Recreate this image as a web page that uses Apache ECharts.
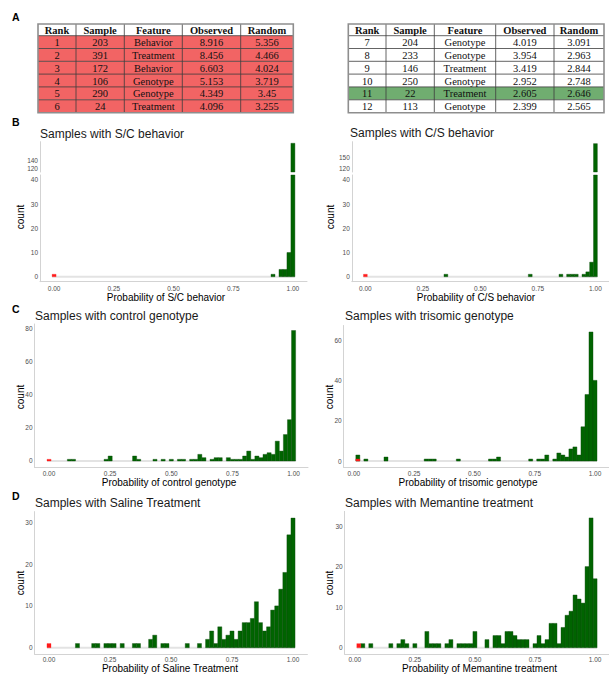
<!DOCTYPE html>
<html><head><meta charset="utf-8">
<script src="https://cdn.jsdelivr.net/npm/echarts@6/dist/echarts.min.js"></script>
<style>html,body{margin:0;padding:0;background:#fff}#c{width:609px;height:676px}</style>
</head><body><div id="c"></div><script>
// ---------------- DATA ----------------
const BIN_W = 1 / 60;                 // histogram bin width (probability units)
const xTicks = [0, 0.25, 0.5, 0.75, 1];

// Panel A tables
const tableHeader = ['Rank', 'Sample', 'Feature', 'Observed', 'Random'];
const rank1 = ['1', '2', '3', '4', '5', '6'];
const sample1 = ['203', '391', '172', '106', '290', '24'];
const feature1 = ['Behavior', 'Treatment', 'Behavior', 'Genotype', 'Genotype', 'Treatment'];
const observed1 = ['8.916', '8.456', '6.603', '5.153', '4.349', '4.096'];
const random1 = ['5.356', '4.466', '4.024', '3.719', '3.45', '3.255'];
const rank2 = ['7', '8', '9', '10', '11', '12'];
const sample2 = ['204', '233', '146', '250', '22', '113'];
const feature2 = ['Genotype', 'Genotype', 'Treatment', 'Genotype', 'Treatment', 'Genotype'];
const observed2 = ['4.019', '3.954', '3.419', '2.952', '2.605', '2.399'];
const random2 = ['3.091', '2.963', '2.844', '2.748', '2.646', '2.565'];
const highlightRank = '11';

// Panel B: S/C behaviour (bin index, count)
const scBins = [55, 57, 58, 59, 60];
const scCounts = [1, 3, 3, 10, 183];
const scRedBins = [0];
const scRedCounts = [1];
const scLowTicks = [0, 10, 20, 30, 40];
const scHighTicks = [120, 140];
// Panel B: C/S behaviour
const csBins = [21, 43, 51, 53, 54, 55, 57, 58, 59, 60];
const csCounts = [1, 1, 1, 1, 1, 1, 1, 2, 6, 185];
const csRedBins = [0];
const csRedCounts = [1];
const csLowTicks = [0, 10, 20, 30, 40];
const csHighTicks = [120, 150];

// Panel C: control genotype
const ctrlBins = [5, 6, 14, 15, 21, 22, 26, 28, 30, 32, 33, 35, 36, 37, 38, 40, 41, 42, 44, 45, 46, 47, 48, 49, 50, 51, 52, 53, 54, 55, 56, 57, 58, 59, 60];
const ctrlCounts = [1, 1, 1, 3, 3, 1, 1, 1, 1, 1, 1, 1, 1, 4, 2, 1, 2, 2, 2, 1, 1, 1, 3, 6, 1, 3, 2, 4, 5, 4, 12, 6, 16, 25, 79];
const ctrlRedBins = [0];
const ctrlRedCounts = [1];
const ctrlTicks = [0, 20, 40, 60, 80];
// Panel C: trisomic genotype
const triBins = [1, 3, 8, 18, 19, 20, 26, 34, 35, 36, 44, 46, 47, 48, 50, 51, 52, 53, 54, 55, 56, 57, 58, 59, 60];
const triCounts = [3, 1, 2, 1, 1, 1, 1, 1, 1, 2, 1, 1, 1, 3, 1, 4, 3, 2, 6, 7, 3, 17, 33, 64, 40];
const triRedBins = [1];
const triRedCounts = [1];
const triTicks = [0, 20, 40, 60];

// Panel D: saline treatment
const salBins = [7, 11, 12, 14, 15, 16, 18, 21, 22, 25, 26, 28, 29, 34, 37, 39, 40, 41, 42, 43, 44, 45, 46, 47, 48, 49, 50, 51, 52, 53, 54, 55, 56, 57, 58, 59, 60];
const salCounts = [1, 1, 1, 1, 1, 1, 1, 1, 1, 2, 3, 1, 1, 1, 1, 2, 4, 1, 5, 2, 3, 4, 2, 4, 6, 6, 7, 11, 6, 4, 5, 9, 10, 14, 18, 27, 31];
const salRedBins = [0];
const salRedCounts = [1];
const salTicks = [0, 10, 20, 30];
// Panel D: memantine treatment
const memBins = [2, 4, 9, 11, 12, 13, 15, 18, 19, 20, 21, 23, 24, 26, 27, 28, 29, 30, 33, 35, 36, 37, 38, 39, 40, 41, 42, 43, 45, 46, 47, 48, 49, 50, 51, 52, 53, 54, 55, 56, 57, 58, 59, 60];
const memCounts = [1, 1, 1, 1, 2, 1, 1, 4, 1, 1, 1, 1, 2, 1, 1, 1, 1, 4, 2, 3, 3, 1, 4, 4, 3, 2, 2, 2, 1, 3, 1, 2, 6, 6, 1, 5, 8, 9, 13, 12, 11, 20, 32, 17];
const memRedBins = [1];
const memRedCounts = [1];
const memTicks = [0, 10, 20, 30];

// ---------------- STYLE / LAYOUT ----------------
const SANS = '"Liberation Sans", Arial, sans-serif';
const SERIF = '"Liberation Serif", "Times New Roman", serif';
const GREEN = '#006400', GREEN_EDGE = '#0c4a0c', RED = '#ff1a1a';
const AXIS_COL = '#d3d3d3', TICK_COL = '#4d4d4d';

const toPairs = (bins, counts) => bins.map((b, i) => [b * BIN_W, counts[i]]);

// grid layout for each histogram area
const panels = [
  { left: 40, width: 267, top: 175, height: 106.7, xmin: -0.059, xmax: 1.059, ymin: -2.066, ymax: 42.02, bins: scBins, counts: scCounts, red: [scRedBins, scRedCounts], yTicks: scLowTicks, showX: true, base: [0, 60], xm: 3 },
  { left: 40, width: 267, top: 141.7, height: 30.3, xmin: -0.059, xmax: 1.059, ymin: 112.6, ymax: 186.9, bins: scBins, counts: scCounts, red: null, yTicks: scHighTicks, showX: false, base: null, xm: 3 },
  { left: 351.8, width: 263.8, top: 175, height: 106.7, xmin: -0.059, xmax: 1.059, ymin: -2.066, ymax: 42.02, bins: csBins, counts: csCounts, red: [csRedBins, csRedCounts], yTicks: csLowTicks, showX: true, base: [0, 60], xm: 3 },
  { left: 351.8, width: 263.8, top: 141.7, height: 30.3, xmin: -0.059, xmax: 1.059, ymin: 112.3, ymax: 190, bins: csBins, counts: csCounts, red: null, yTicks: csHighTicks, showX: false, base: null, xm: 3 },
  { left: 34.6, width: 273.4, top: 324, height: 143.5, xmin: -0.059, xmax: 1.059, ymin: -3.95, ymax: 82.95, bins: ctrlBins, counts: ctrlCounts, red: [ctrlRedBins, ctrlRedCounts], yTicks: ctrlTicks, showX: true, base: [0, 60], xm: 2 },
  { left: 343.7, width: 270.6, top: 325.5, height: 142, xmin: -0.042, xmax: 1.058, ymin: -3.2, ymax: 67.2, bins: triBins, counts: triCounts, red: [triRedBins, triRedCounts], yTicks: triTicks, showX: true, base: [1, 60], xm: 2 },
  { left: 34.6, width: 272.8, top: 511.6, height: 142.6, xmin: -0.059, xmax: 1.059, ymin: -1.55, ymax: 32.55, bins: salBins, counts: salCounts, red: [salRedBins, salRedCounts], yTicks: salTicks, showX: true, base: [0, 60], xm: 1.5 },
  { left: 344.7, width: 270.6, top: 511.4, height: 142.8, xmin: -0.042, xmax: 1.058, ymin: -1.6, ymax: 33.6, bins: memBins, counts: memCounts, red: [memRedBins, memRedCounts], yTicks: memTicks, showX: true, base: [1, 60], xm: 1.5 }
];

function barRenderer(fill, stroke, lw) {
  return function (params, api) {
    const x = api.value(0), n = api.value(1);
    const a = api.coord([x - BIN_W / 2, n]);
    const b = api.coord([x + BIN_W / 2, 0]);
    const cs = params.coordSys;
    const r = echarts.graphic.clipRectByRect(
      { x: a[0], y: a[1], width: b[0] - a[0], height: b[1] - a[1] },
      { x: cs.x, y: cs.y, width: cs.width, height: cs.height });
    if (!r) return null;
    return { type: 'rect', shape: r, style: { fill: fill, stroke: stroke, lineWidth: lw } };
  };
}

const grid = [], xAxis = [], yAxis = [], series = [];
panels.forEach((p, i) => {
  grid.push({ left: p.left, top: p.top, width: p.width, height: p.height });
  xAxis.push({
    type: 'value', gridIndex: i, min: p.xmin, max: p.xmax, show: p.showX,
    splitLine: { show: false }, axisTick: { show: false },
    axisLine: { show: true, onZero: false, lineStyle: { color: AXIS_COL, width: 1 } },
    axisLabel: { customValues: xTicks, formatter: v => v.toFixed(2), fontFamily: SANS, fontSize: 6.5, color: TICK_COL, margin: p.xm }
  });
  yAxis.push({
    type: 'value', gridIndex: i, min: p.ymin, max: p.ymax,
    splitLine: { show: false }, axisTick: { show: false },
    axisLine: { show: true, onZero: false, lineStyle: { color: AXIS_COL, width: 1 } },
    axisLabel: { customValues: p.yTicks, fontFamily: SANS, fontSize: 6.5, color: TICK_COL, margin: 2 }
  });
  if (p.base) {
    series.push({
      type: 'line', xAxisIndex: i, yAxisIndex: i, symbol: 'none', silent: true, z: 1,
      lineStyle: { color: '#e3e3e3', width: 2 },
      data: [[p.base[0] * BIN_W - BIN_W / 2, 0], [p.base[1] * BIN_W + BIN_W / 2, 0]]
    });
  }
  series.push({
    type: 'custom', xAxisIndex: i, yAxisIndex: i, z: 2, silent: true,
    renderItem: barRenderer(GREEN, GREEN_EDGE, 0.4),
    encode: { x: 0, y: 1 }, data: toPairs(p.bins, p.counts)
  });
  if (p.red) {
    series.push({
      type: 'custom', xAxisIndex: i, yAxisIndex: i, z: 3, silent: true,
      renderItem: barRenderer(RED, RED, 0.3),
      encode: { x: 0, y: 1 }, data: toPairs(p.red[0], p.red[1])
    });
  }
});

// ---------------- GRAPHIC TEXT & TABLES ----------------
const els = [];
function txt(t, x, y, o) {
  o = o || {};
  els.push({
    type: 'text', x: x, y: y, rotation: o.rot || 0, silent: true,
    style: { text: t, fontFamily: o.family || SANS, fontSize: o.size || 12, fontWeight: o.weight || 'normal',
      fill: o.color || '#1a1a1a', align: o.align || 'left', verticalAlign: 'middle' }
  });
}
// panel letters
[['A', 12, 17], ['B', 12, 122], ['C', 12, 309], ['D', 12, 496]].forEach(l => txt(l[0], l[1], l[2], { weight: 'bold', size: 10.5, color: '#000' }));
// titles
[['Samples with S/C behavior', 40, 134], ['Samples with C/S behavior', 350, 133],
 ['Samples with control genotype', 35, 316], ['Samples with trisomic genotype', 345, 316],
 ['Samples with Saline Treatment', 35, 503], ['Samples with Memantine treatment', 345, 503]]
  .forEach(t => txt(t[0], t[1], t[2], { size: 12 }));
// x axis titles
[['Probability of S/C behavior', 166, 297], ['Probability of C/S behavior', 476, 297],
 ['Probability of control genotype', 169, 482], ['Probability of trisomic genotype', 468, 482],
 ['Probability of Saline Treatment', 170, 668.5], ['Probability of Memantine treatment', 479.5, 668.5]]
  .forEach(t => txt(t[0], t[1], t[2], { size: 10, align: 'center', color: '#000' }));
// y axis titles
[[20.7, 217], [330, 217], [20.7, 397], [329, 397], [20.7, 583], [329, 583]]
  .forEach(p => txt('count', p[0], p[1], { size: 10, align: 'center', rot: Math.PI / 2, color: '#000' }));

function table(colX, rowY, cols, rowFill) {
  const nRows = cols[0].length;
  const x0 = colX[0], x1 = colX[colX.length - 1];
  els.push({ type: 'rect', silent: true, shape: { x: x0, y: rowY[0], width: x1 - x0, height: rowY[1] - rowY[0] }, style: { fill: '#fff' } });
  for (let r = 0; r < nRows; r++) {
    els.push({ type: 'rect', silent: true, shape: { x: x0, y: rowY[r + 1], width: x1 - x0, height: rowY[r + 2] - rowY[r + 1] }, style: { fill: rowFill(r) } });
  }
  for (let r = 1; r <= nRows; r++) {
    els.push({ type: 'line', silent: true, shape: { x1: x0, y1: rowY[r], x2: x1, y2: rowY[r] }, style: { stroke: '#3c3c3c', lineWidth: 0.8 } });
  }
  for (let c = 1; c < colX.length - 1; c++) {
    els.push({ type: 'line', silent: true, shape: { x1: colX[c], y1: rowY[0], x2: colX[c], y2: rowY[rowY.length - 1] }, style: { stroke: '#3c3c3c', lineWidth: 0.8 } });
  }
  els.push({ type: 'rect', silent: true, shape: { x: x0, y: rowY[0], width: x1 - x0, height: rowY[rowY.length - 1] - rowY[0] }, style: { fill: 'none', stroke: '#8e8e8e', lineWidth: 1.6 } });
  for (let c = 0; c < tableHeader.length; c++) {
    const cx = (colX[c] + colX[c + 1]) / 2;
    txt(tableHeader[c], cx, (rowY[0] + rowY[1]) / 2 + 0.5, { family: SERIF, size: 10.5, weight: 'bold', align: 'center', color: '#111' });
    for (let r = 0; r < nRows; r++) {
      txt(cols[c][r], cx, (rowY[r + 1] + rowY[r + 2]) / 2 + 0.5, { family: SERIF, size: 10.5, align: 'center', color: '#111' });
    }
  }
}
const rowEdges = [24, 35.7, 48.5, 61.3, 74.1, 86.9, 99.8, 112.7];
table([38, 76, 124.3, 182.3, 240.7, 293.3], rowEdges, [rank1, sample1, feature1, observed1, random1], () => '#f26464');
table([348.3, 386, 434.3, 495.7, 554, 604], rowEdges, [rank2, sample2, feature2, observed2, random2],
  r => rank2[r] === highlightRank ? '#70ad70' : '#ffffff');

const chart = echarts.init(document.getElementById('c'), null, { renderer: 'svg' });
chart.setOption({
  animation: false, backgroundColor: '#fff',
  grid: grid, xAxis: xAxis, yAxis: yAxis, series: series,
  graphic: { elements: els }
});
</script></body></html>
